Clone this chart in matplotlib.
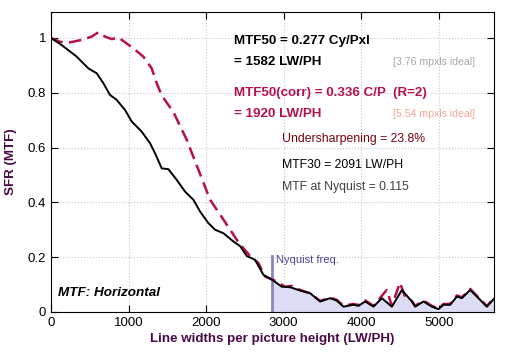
import numpy as np
import matplotlib
matplotlib.use("Agg")
import matplotlib.pyplot as plt

plt.rcParams['font.family'] = ['Liberation Sans', 'DejaVu Sans']

# measured MTF (black)
mtf_x = [0, 138, 331, 482, 590, 675, 761, 847, 955, 1041, 1170, 1277, 1342, 1428, 1514,
         1621, 1729, 1837, 1923, 2030, 2116, 2224, 2353, 2439, 2525, 2632, 2740, 2852,
         2976, 3084, 3213, 3342, 3471, 3600, 3686, 3772, 3901, 3966, 4052, 4159, 4267,
         4396, 4525, 4654, 4697, 4804, 4912, 4998, 5062, 5148, 5235, 5299, 5406, 5492,
         5621, 5720]
mtf_y = [1.0, 0.974, 0.932, 0.889, 0.871, 0.835, 0.792, 0.774, 0.737, 0.695, 0.658, 0.616,
         0.579, 0.524, 0.521, 0.482, 0.439, 0.409, 0.366, 0.324, 0.300, 0.287, 0.257,
         0.240, 0.204, 0.190, 0.135, 0.117, 0.092, 0.090, 0.078, 0.068, 0.038, 0.050,
         0.041, 0.019, 0.026, 0.022, 0.038, 0.019, 0.050, 0.019, 0.080, 0.038, 0.019,
         0.038, 0.019, 0.010, 0.026, 0.026, 0.056, 0.050, 0.080, 0.056, 0.019, 0.050]

# corrected MTF (red dashed)
corr_x = [0, 116, 245, 396, 525, 611, 697, 783, 869, 976, 1062, 1191, 1299, 1363, 1428,
          1578, 1751, 1923, 2052, 2181, 2310, 2396, 2482, 2568, 2675, 2761, 2912, 3019,
          3105, 3213, 3342, 3471, 3600, 3686, 3772, 3901, 3966, 4052, 4159, 4330, 4396,
          4500, 4560, 4654, 4697, 4804, 4912, 4998, 5062, 5148, 5235, 5299, 5406, 5492,
          5621, 5720]
corr_y = [1.0, 0.986, 0.984, 0.993, 1.005, 1.021, 1.005, 0.996, 1.002, 0.980, 0.962, 0.932,
          0.889, 0.835, 0.790, 0.730, 0.628, 0.503, 0.409, 0.355, 0.300, 0.263, 0.232,
          0.204, 0.178, 0.129, 0.111, 0.092, 0.095, 0.080, 0.068, 0.040, 0.052, 0.044,
          0.022, 0.029, 0.025, 0.042, 0.022, 0.080, 0.022, 0.107, 0.060, 0.040, 0.022,
          0.041, 0.022, 0.012, 0.029, 0.029, 0.060, 0.053, 0.084, 0.059, 0.021, 0.053]

nyquist = 2856
x_max = 5712

RED = '#b8104e'
PURPLE = '#4a0a48'

fig = plt.figure(figsize=(5.05, 3.52), dpi=100)
ax = fig.add_axes([0.101, 0.114, 0.877, 0.852])

mx = np.array(mtf_x)
my = np.array(mtf_y)
nyq_y = np.interp(nyquist, mx, my)
fx = np.concatenate([[nyquist], mx[mx > nyquist]])
fy = np.concatenate([[nyq_y], my[mx > nyquist]])
ax.fill_between(fx, 0, fy, color='#dcdcf4', zorder=1)

ax.plot(corr_x, corr_y, color=RED, lw=1.8, dashes=(5, 2.5), zorder=3)
ax.plot(mtf_x, mtf_y, color='black', lw=1.4, zorder=4)

ax.plot([nyquist, nyquist], [0, 0.204], color='#8888bb', lw=2, zorder=2)
ax.text(nyquist + 40, 0.19, 'Nyquist freq.', color='#4848a0', fontsize=8, va='center')

ax.set_xlim(0, x_max)
ax.set_ylim(0, 1.095)
ax.set_xticks([0, 1000, 2000, 3000, 4000, 5000])
ax.set_yticks([0, 0.2, 0.4, 0.6, 0.8, 1])
ax.set_yticklabels(['0', '0.2', '0.4', '0.6', '0.8', '1'])
ax.tick_params(direction='in', top=True, right=True, labelsize=9.5, length=5)
ax.grid(True, linestyle=':', color='#c8c8c8', lw=0.8)
ax.set_axisbelow(True)

ax.set_xlabel('Line widths per picture height (LW/PH)', color=PURPLE,
              fontweight='bold', fontsize=9.6, labelpad=3)
ax.set_ylabel('SFR (MTF)', color=PURPLE, fontweight='bold', fontsize=9.6, labelpad=8)

tr = ax.transAxes
ax.text(0.413, 0.903, 'MTF50 = 0.277 Cy/Pxl', transform=tr, fontweight='bold',
        fontsize=9.6, va='center')
ax.text(0.413, 0.833, '= 1582 LW/PH', transform=tr, fontweight='bold',
        fontsize=9.6, va='center')
ax.text(0.772, 0.833, '[3.76 mpxls ideal]', transform=tr, color='#a8a8a8',
        fontsize=7.6, va='center')
ax.text(0.413, 0.73, 'MTF50(corr) = 0.336 C/P  (R=2)', transform=tr, fontweight='bold',
        color=RED, fontsize=9.6, va='center')
ax.text(0.413, 0.66, '= 1920 LW/PH', transform=tr, fontweight='bold',
        color=RED, fontsize=9.6, va='center')
ax.text(0.772, 0.66, '[5.54 mpxls ideal]', transform=tr, color='#f0a898',
        fontsize=7.6, va='center')
ax.text(0.521, 0.577, 'Undersharpening = 23.8%', transform=tr, color='#7a0010',
        fontsize=8.8, va='center')
ax.text(0.521, 0.49, 'MTF30 = 2091 LW/PH', transform=tr, color='black',
        fontsize=8.8, va='center')
ax.text(0.521, 0.417, 'MTF at Nyquist = 0.115', transform=tr, color='#404040',
        fontsize=8.8, va='center')
ax.text(0.016, 0.063, 'MTF: Horizontal', transform=tr, fontweight='bold',
        fontstyle='italic', fontsize=9.7, va='center')

fig.savefig('out.png', dpi=100, facecolor='white')
